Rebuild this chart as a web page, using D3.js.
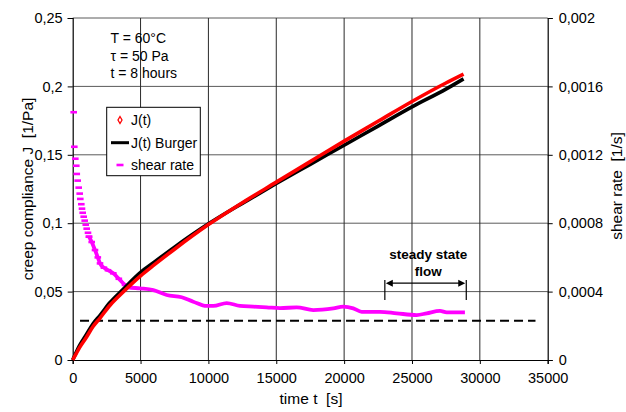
<!DOCTYPE html>
<html><head><meta charset="utf-8">
<script src="https://cdn.jsdelivr.net/npm/d3@7"></script>
<style>
html,body{margin:0;padding:0;background:#fff;}
text{font-family:"Liberation Sans",Arial,sans-serif;}
</style></head>
<body><svg id="c" width="626" height="412"></svg>
<script>
// ---- data ----
const xTicks = [0, 5000, 10000, 15000, 20000, 25000, 30000, 35000];
const yLeftTicks = [0, 0.05, 0.1, 0.15, 0.2, 0.25];
const yLeftLabels = ["0", "0,05", "0,1", "0,15", "0,2", "0,25"];
const yRightTicks = [0, 0.0004, 0.0008, 0.0012, 0.0016, 0.002];
const yRightLabels = ["0", "0,0004", "0,0008", "0,0012", "0,0016", "0,002"];

const tJ      = [0, 250, 500, 1000, 1500, 2000, 2750, 3700, 5000, 6000, 7500, 10000, 12500, 15000, 17500, 20000, 22500, 25000, 27500, 28800];
const jBurger = [0, 0.0055, 0.0105, 0.0185, 0.0265, 0.0325, 0.042, 0.0515, 0.064, 0.0715, 0.0825, 0.0995, 0.1145, 0.129, 0.143, 0.157, 0.171, 0.185, 0.198, 0.2055];
const jData   = [0, 0.0045, 0.009, 0.0165, 0.0245, 0.0305, 0.0400, 0.0495, 0.0615, 0.0695, 0.081, 0.099, 0.115, 0.130, 0.145, 0.160, 0.1745, 0.189, 0.2025, 0.209];

// early shear-rate points (discrete markers)
const tShearEarly = [74, 118, 192, 265, 300, 368, 442, 516, 560, 634, 685, 737, 810, 884, 960, 1032, 1127, 1201];
const shearEarly  = [0.001449, 0.001247, 0.001177, 0.001136, 0.001088, 0.001049, 0.001008, 0.000973, 0.000942, 0.000911, 0.000885, 0.000861, 0.000838, 0.000815, 0.000791, 0.000768, 0.000744, 0.000721];
// later shear-rate trace
const tShear = [1201, 1400, 1643, 1850, 2012, 2300, 2600, 2991, 3400, 3853, 4097, 4959, 5939, 6926, 8031, 8886, 9873, 10360, 11347, 12327, 13307, 14294, 15274, 16505, 17727, 19201, 19938, 20675, 21293, 22642, 23872, 25346, 26083, 27063, 27557, 28900];
const shear  = [0.000721, 0.000690, 0.000643, 0.000600, 0.000565, 0.000540, 0.000525, 0.000507, 0.000475, 0.000439, 0.000425, 0.000419, 0.000409, 0.000380, 0.000367, 0.000341, 0.000316, 0.000316, 0.000333, 0.000316, 0.000312, 0.000308, 0.000303, 0.000308, 0.000292, 0.000302, 0.000312, 0.000302, 0.000282, 0.000282, 0.000273, 0.000263, 0.000273, 0.000287, 0.000279, 0.000279];

const steadyRate = 0.00023;
const steadyRange = [540, 34100];
const flowRange = [23000, 29000];
const infoLines = ["T = 60°C", "τ = 50 Pa", "t = 8 hours"];
const legendLabels = ["J(t)", "J(t) Burger", "shear rate"];

// ---- chart ----
const svg = d3.select("#c");
const L = 72.7, R = 547.7, T = 18, B = 360;
const x = d3.scaleLinear().domain([0, 35000]).range([L, R]);
const yL = d3.scaleLinear().domain([0, 0.25]).range([B, T]);
const yR = d3.scaleLinear().domain([0, 0.002]).range([B, T]);

// grid
svg.append("g").selectAll("line").data(yLeftTicks.slice(1)).join("line")
  .attr("x1", L).attr("x2", R).attr("y1", d => yL(d)).attr("y2", d => yL(d))
  .attr("stroke", "#5a5a5a").attr("stroke-width", 1);
svg.append("g").selectAll("line").data(xTicks.slice(1, -1)).join("line")
  .attr("x1", d => x(d)).attr("x2", d => x(d)).attr("y1", T).attr("y2", B)
  .attr("stroke", "#2a2a2a").attr("stroke-width", 1);

// axes
const fs = "14.5px";
const axL = svg.append("g").attr("transform", `translate(${L},0)`)
  .call(d3.axisLeft(yL).tickValues(yLeftTicks).tickFormat((d, i) => yLeftLabels[i]).tickSize(5).tickPadding(5));
const axR = svg.append("g").attr("transform", `translate(${R},0)`)
  .call(d3.axisRight(yR).tickValues(yRightTicks).tickFormat((d, i) => yRightLabels[i]).tickSize(5).tickPadding(6));
const axB = svg.append("g").attr("transform", `translate(0,${B})`)
  .call(d3.axisBottom(x).tickValues(xTicks).tickFormat(d => String(d)).tickSize(4).tickPadding(9));
[axL, axR, axB].forEach(a => {
  a.selectAll(".domain").attr("stroke", "#000").attr("stroke-width", 1.2);
  a.selectAll(".tick line").attr("stroke", "#000");
  a.selectAll("text").attr("font-size", fs).attr("fill", "#000").style("font-family", '"Liberation Sans",Arial,sans-serif');
});

// axis titles
svg.append("text").attr("transform", `translate(33,189) rotate(-90)`)
  .attr("text-anchor", "middle").attr("font-size", "15.5px").style("white-space", "pre")
  .text("creep compliance J  [1/Pa]");
svg.append("text").attr("transform", `translate(622,186) rotate(-90)`)
  .attr("text-anchor", "middle").attr("font-size", "15.5px").style("white-space", "pre")
  .text("shear rate  [1/s]");
svg.append("text").attr("x", 311).attr("y", 404)
  .attr("text-anchor", "middle").attr("font-size", "15.5px").style("white-space", "pre")
  .text("time t  [s]");

// dashed steady reference
svg.append("line")
  .attr("x1", x(steadyRange[0])).attr("x2", x(steadyRange[1]))
  .attr("y1", yR(steadyRate)).attr("y2", yR(steadyRate))
  .attr("stroke", "#000").attr("stroke-width", 2).attr("stroke-dasharray", "9,5");

// shear rate
const magenta = "#ff00ff";
svg.append("path")
  .datum(tShear.map((t, i) => [t, shear[i]]))
  .attr("fill", "none").attr("stroke", magenta).attr("stroke-width", 3.8).attr("stroke-linejoin", "round")
  .attr("d", d3.line().x(d => x(d[0])).y(d => yR(d[1])).curve(d3.curveMonotoneX));
const earlyPts = tShearEarly.map((t, i) => [t, shearEarly[i]])
  .concat(tShear.map((t, i) => [t, shear[i]]).filter(d => d[0] < 4200));
svg.append("g").selectAll("rect").data(earlyPts).join("rect")
  .attr("x", d => x(d[0]) - 3.3).attr("y", d => yR(d[1]) - 1.3)
  .attr("width", 6.6).attr("height", 2.6).attr("fill", magenta);

// J curves
const line = d3.line().x(d => x(d[0])).y(d => yL(d[1])).curve(d3.curveMonotoneX);
svg.append("path").datum(tJ.map((t, i) => [t, jBurger[i]]))
  .attr("fill", "none").attr("stroke", "#000").attr("stroke-width", 3.6).attr("d", line);
svg.append("path").datum(tJ.map((t, i) => [t, jData[i]]))
  .attr("fill", "none").attr("stroke", "#ff0000").attr("stroke-width", 3.6).attr("d", line);

// info text
svg.append("g").selectAll("text").data(infoLines).join("text")
  .attr("x", 110.5).attr("y", (d, i) => 43 + i * 17.5).attr("font-size", "14px").text(d => d);

// legend
const lg = svg.append("g");
lg.append("rect").attr("x", 106.7).attr("y", 107.3).attr("width", 93.6).attr("height", 68.4)
  .attr("fill", "#fff").attr("stroke", "#000").attr("stroke-width", 1);
const ly = [120, 142.7, 165];
lg.append("path").attr("d", d3.symbol(d3.symbolDiamond, 14)())
  .attr("transform", `translate(120,${ly[0]})`).attr("fill", "#fff").attr("stroke", "#ff0000").attr("stroke-width", 1.3);
lg.append("line").attr("x1", 111).attr("x2", 129).attr("y1", ly[1]).attr("y2", ly[1])
  .attr("stroke", "#000").attr("stroke-width", 3);
lg.append("rect").attr("x", 116.5).attr("y", ly[2] - 1.3).attr("width", 7).attr("height", 2.6).attr("fill", magenta);
lg.selectAll("text").data(legendLabels).join("text")
  .attr("x", 131).attr("y", (d, i) => ly[i] + 5).attr("font-size", "14px").text(d => d);

// steady state annotation
const ax1 = x(flowRange[0]), ax2 = x(flowRange[1]);
const ayTop = yR(0.000468), ayBot = yR(0.000351), ayArr = yR(0.000449);
const ann = svg.append("g");
ann.append("line").attr("x1", ax1).attr("x2", ax1).attr("y1", ayTop).attr("y2", ayBot).attr("stroke", "#000").attr("stroke-width", 1.2);
ann.append("line").attr("x1", ax2).attr("x2", ax2).attr("y1", ayTop).attr("y2", ayBot).attr("stroke", "#000").attr("stroke-width", 1.2);
ann.append("line").attr("x1", ax1 + 5).attr("x2", ax2 - 5).attr("y1", ayArr).attr("y2", ayArr).attr("stroke", "#000").attr("stroke-width", 1.2);
ann.append("path").attr("d", `M${ax1 + 1},${ayArr} L${ax1 + 8},${ayArr - 3.5} L${ax1 + 8},${ayArr + 3.5} Z`).attr("fill", "#000");
ann.append("path").attr("d", `M${ax2 - 1},${ayArr} L${ax2 - 8},${ayArr - 3.5} L${ax2 - 8},${ayArr + 3.5} Z`).attr("fill", "#000");
const xc = x((flowRange[0] + flowRange[1]) / 2 + 200);
ann.append("text").attr("x", xc).attr("y", yR(0.000591)).attr("text-anchor", "middle")
  .attr("font-size", "13.5px").attr("font-weight", "bold").text("steady state");
ann.append("text").attr("x", xc).attr("y", yR(0.000494)).attr("text-anchor", "middle")
  .attr("font-size", "13.5px").attr("font-weight", "bold").text("flow");
</script></body></html>
